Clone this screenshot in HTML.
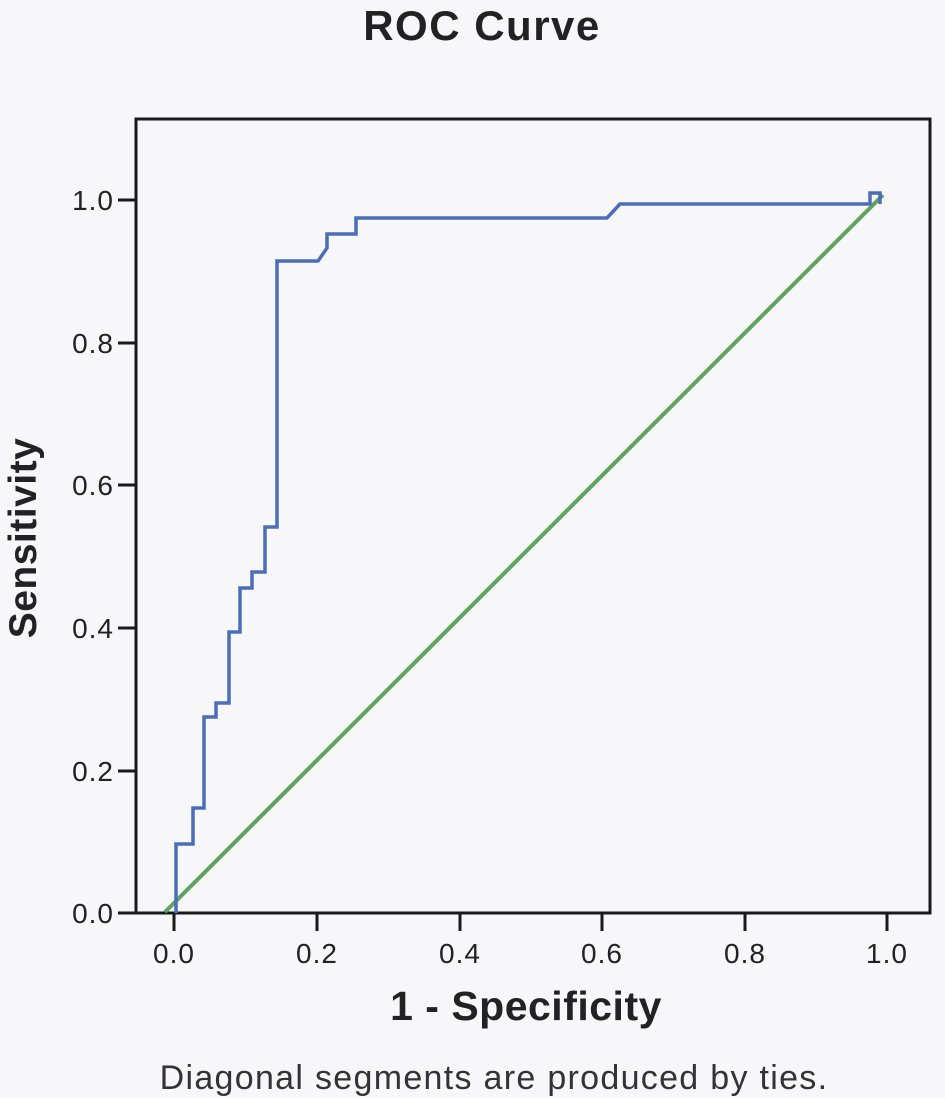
<!DOCTYPE html>
<html><head><style>
body{margin:0;background:#f7f7f9;}
svg{display:block;font-family:"Liberation Sans",sans-serif;}
</style></head><body>
<svg width="945" height="1098" viewBox="0 0 945 1098">
<rect width="945" height="1098" fill="#f7f7f9"/>
<text x="482" y="40" text-anchor="middle" font-size="42" font-weight="bold" fill="#222" letter-spacing="1.5">ROC Curve</text>
<rect x="136" y="119" width="794" height="794" fill="none" stroke="#1a1a1a" stroke-width="3"/>
<g stroke="#1a1a1a" stroke-width="3">
<line x1="118" y1="913" x2="136" y2="913"/><line x1="118" y1="771" x2="136" y2="771"/><line x1="118" y1="628" x2="136" y2="628"/><line x1="118" y1="485" x2="136" y2="485"/><line x1="118" y1="343" x2="136" y2="343"/><line x1="118" y1="200" x2="136" y2="200"/>
<line x1="174" y1="913" x2="174" y2="931"/><line x1="317" y1="913" x2="317" y2="931"/><line x1="460" y1="913" x2="460" y2="931"/><line x1="602" y1="913" x2="602" y2="931"/><line x1="745" y1="913" x2="745" y2="931"/><line x1="887" y1="913" x2="887" y2="931"/>
</g>
<g font-size="28" fill="#222" text-anchor="end" letter-spacing="1">
<text x="114" y="923">0.0</text><text x="114" y="781">0.2</text><text x="114" y="638">0.4</text><text x="114" y="495">0.6</text><text x="114" y="353">0.8</text><text x="114" y="210">1.0</text>
</g>
<g font-size="28" fill="#222" text-anchor="middle" letter-spacing="1">
<text x="174" y="963">0.0</text><text x="317" y="963">0.2</text><text x="460" y="963">0.4</text><text x="602" y="963">0.6</text><text x="745" y="963">0.8</text><text x="887" y="963">1.0</text>
</g>
<text x="526" y="1020" text-anchor="middle" font-size="41" font-weight="bold" fill="#222" letter-spacing="0.5">1 - Specificity</text>
<text transform="translate(36,538) rotate(-90)" text-anchor="middle" font-size="39" font-weight="bold" fill="#222" letter-spacing="0.5">Sensitivity</text>
<text x="494" y="1089" text-anchor="middle" font-size="34" fill="#333" letter-spacing="1.3">Diagonal segments are produced by ties.</text>
<line x1="165" y1="912" x2="883" y2="195" stroke="#5ea35e" stroke-width="4"/>
<polyline fill="none" stroke="#4a6fb8" stroke-width="3.5" points="176,913 176,844 193,844 193,808 204,808 204,717 216,717 216,703 229,703 229,632 240,632 240,588 252,588 252,572 265,572 265,527 277,527 277,261 318,261 327,248 327,234 356,234 356,218 607,218 620,204 870,204 870,193 880,193 880,204"/>
</svg>
</body></html>
